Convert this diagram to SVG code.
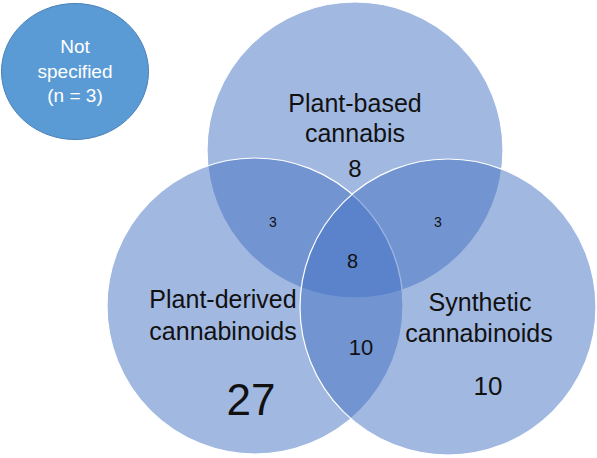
<svg xmlns="http://www.w3.org/2000/svg" width="597" height="458" viewBox="0 0 597 458">
<style>
.set{fill:#4472C4;fill-opacity:0.5;stroke:#fff;stroke-width:1.2}
text{font-family:"Liberation Sans",Arial,sans-serif;text-anchor:middle;fill:#111}
.lbl{font-size:25px}
.w{fill:#fff;font-size:19px}
</style>
<rect width="597" height="458" fill="#fff"/>
<g id="not-specified">
<ellipse cx="75" cy="71.5" rx="73.5" ry="68" fill="#5B9BD5" stroke="#4A80B8" stroke-width="1"/>
<text class="w" x="75" y="53">Not</text>
<text class="w" x="75" y="78">specified</text>
<text class="w" x="75" y="102">(n = 3)</text>
</g>
<g id="plant-based">
<circle class="set" cx="355" cy="150" r="148"/>
</g>
<g id="plant-derived">
<circle class="set" cx="255" cy="306" r="148"/>
</g>
<g id="synthetic">
<circle class="set" cx="448" cy="307" r="148"/>
</g>
<g id="labels">
<text class="lbl" x="355" y="112">Plant-based</text>
<text class="lbl" x="355" y="142">cannabis</text>
<text x="355" y="177" font-size="24">8</text>
<text class="lbl" x="223" y="308">Plant-derived</text>
<text class="lbl" x="223" y="340">cannabinoids</text>
<text x="251" y="415" font-size="44">27</text>
<text class="lbl" x="480" y="311">Synthetic</text>
<text class="lbl" x="479" y="342">cannabinoids</text>
<text x="488" y="395" font-size="26">10</text>
<text x="361" y="355" font-size="22">10</text>
<text x="352.5" y="268" font-size="20">8</text>
<text x="273" y="227" font-size="14">3</text>
<text x="438" y="227" font-size="14">3</text>
</g>
<g id="connectors"/>
</svg>
